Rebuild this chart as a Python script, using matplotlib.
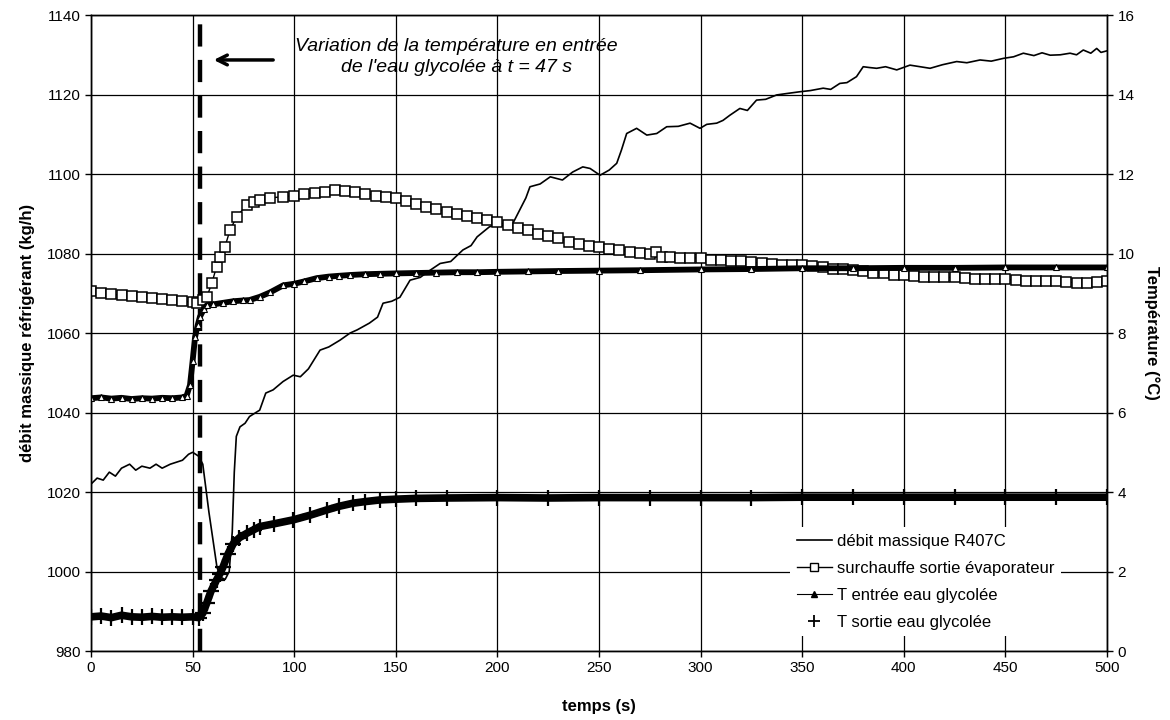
import matplotlib
matplotlib.use('Agg')
import matplotlib.pyplot as plt
from matplotlib.lines import Line2D

plt.rcParams['font.family'] = ['Liberation Sans', 'DejaVu Sans']

# débit massique R407C (kg/h), left axis
t_debit = [0, 3, 6, 9, 12, 15, 19, 22, 25, 29, 32, 35, 39, 42, 45, 48, 50, 53, 55,
           58, 60, 62, 64, 66, 68, 69.5, 70.5, 71.5, 73.3, 75.8, 78, 83, 86, 89.6,
           94.5, 99.5, 103, 107, 112.7, 117, 122.5, 127.5, 131, 137, 141, 143.7, 148,
           152, 157, 162, 166, 171.8, 177, 183, 187, 190, 196, 200, 204.7, 208, 211,
           214, 216, 221, 226, 232, 237, 242, 245.6, 250.5, 255, 258.7, 261, 263.6,
           268.5, 273.5, 278.4, 283.3, 289, 294.8, 299.7, 303, 307.9, 311, 314.4,
           319.3, 323, 327.5, 332, 337.4, 343, 348.8, 354, 360.3, 364, 368.5, 372,
           376.7, 380, 383, 386.6, 391, 396.5, 403, 408, 412.9, 419, 426, 431, 437.5,
           443, 449, 454, 458.8, 464, 468, 472, 477, 481.8, 485, 488.3, 492, 494.9,
           497, 500]
debit = [1022, 1023.5, 1023, 1025, 1024, 1026, 1027, 1025.5, 1026.5, 1026, 1027, 1026,
         1027, 1027.5, 1028, 1029.5, 1030, 1029, 1027, 1015, 1008, 1001, 998.5, 998,
         1000, 1010, 1025, 1034, 1036.4, 1037.3, 1039, 1040.6, 1044.9, 1045.7, 1047.8,
         1049.4, 1049, 1051, 1055.7, 1056.5, 1058.2, 1060, 1060.8, 1062.5, 1064,
         1067.5, 1068, 1069, 1073.3, 1074, 1075.5, 1077.5, 1078, 1080.9, 1082, 1084.2,
         1086.7, 1087.5, 1086.7, 1088, 1091, 1094, 1096.8, 1097.5, 1099.3, 1098.5,
         1100.5, 1101.8, 1101.4, 1099.7, 1101, 1102.7, 1106, 1110.2, 1111.5, 1109.8,
         1110.2, 1111.9, 1112, 1112.8, 1111.5, 1112.5, 1112.8, 1113.5, 1114.8, 1116.5,
         1116, 1118.6, 1118.8, 1119.9, 1120.3, 1120.7, 1121, 1121.6, 1121.3, 1122.8,
         1123, 1124.5, 1127, 1126.8, 1126.6, 1127, 1126.2, 1127.4, 1127, 1126.6,
         1127.5, 1128.3, 1128, 1128.7, 1128.4, 1129.1, 1129.5, 1130.4, 1129.8, 1130.5,
         1129.9, 1130, 1130.4, 1130, 1131.2, 1130.4, 1131.6, 1130.6, 1131]

# surchauffe sortie évaporateur (°C), right axis
t_surch = [0, 5, 10, 15, 20, 25, 30, 35, 40, 45, 50, 52, 55, 57, 59.4, 61.8, 63.5,
           65.9, 68.4, 71.7, 76.6, 80, 83, 88, 94.6, 100, 105, 110, 115, 120, 125,
           130, 135, 140, 145, 150, 155, 160, 165, 170, 175, 180, 185, 190, 195, 200,
           205, 210, 215, 220, 225, 230, 235, 240, 245, 250, 255, 260, 265, 270, 275,
           278, 281, 285, 290, 295, 300, 305, 310, 315, 320, 325, 330, 335, 340, 345,
           350, 355, 360, 365, 370, 375, 380, 385, 390, 395, 400, 405, 410, 415, 420,
           425, 430, 435, 440, 445, 450, 455, 460, 465, 470, 475, 480, 485, 490, 495,
           500]
surch = [9.05, 9.0, 8.98, 8.95, 8.92, 8.9, 8.88, 8.86, 8.84, 8.8, 8.77, 8.75, 8.82,
         8.91, 9.25, 9.67, 9.92, 10.17, 10.59, 10.93, 11.22, 11.3, 11.35, 11.4, 11.43,
         11.46, 11.5, 11.52, 11.56, 11.6, 11.58, 11.55, 11.51, 11.46, 11.42, 11.39,
         11.33, 11.25, 11.18, 11.12, 11.05, 11.0, 10.95, 10.9, 10.85, 10.8, 10.72,
         10.65, 10.58, 10.5, 10.44, 10.38, 10.3, 10.25, 10.2, 10.17, 10.12, 10.08,
         10.05, 10.02, 10.0, 10.05, 9.92, 9.92, 9.9, 9.9, 9.88, 9.85, 9.83, 9.8, 9.8,
         9.78, 9.76, 9.74, 9.72, 9.72, 9.71, 9.68, 9.65, 9.62, 9.6, 9.58, 9.55, 9.52,
         9.5, 9.47, 9.45, 9.43, 9.42, 9.4, 9.4, 9.4, 9.38, 9.36, 9.35, 9.35, 9.35,
         9.33, 9.32, 9.3, 9.3, 9.3, 9.28, 9.27, 9.27, 9.28, 9.3]

# T entrée eau glycolée (°C), right axis
t_entree = [0, 5, 10, 15, 20, 25, 30, 35, 40, 45, 47, 48.7, 50, 51.2, 52.5, 53.6,
            55.5, 57, 60, 65, 70, 75, 78, 83, 88, 94.6, 100, 105, 111, 117, 122,
            127.5, 135, 142, 150, 160, 170, 180, 190, 200, 215, 230, 250, 270, 300,
            325, 350, 375, 400, 425, 450, 475, 500]
T_entree = [6.36, 6.38, 6.35, 6.37, 6.34, 6.36, 6.35, 6.37, 6.36, 6.38, 6.42, 6.69,
            7.3, 7.9, 8.2, 8.41, 8.6, 8.7, 8.72, 8.76, 8.8, 8.82, 8.83, 8.91, 9.02,
            9.2, 9.24, 9.3, 9.38, 9.42, 9.44, 9.46, 9.48, 9.49, 9.5, 9.51, 9.52, 9.53,
            9.53, 9.54, 9.55, 9.56, 9.57, 9.58, 9.6, 9.61, 9.63, 9.63, 9.64, 9.64,
            9.65, 9.65, 9.65]

# T sortie eau glycolée (°C), right axis
t_sortie = [0, 5, 10, 15, 20, 25, 30, 35, 40, 45, 50, 53, 55, 56.9, 59, 61.8, 63.5,
            65, 67.5, 70, 73, 76.6, 80, 83, 90, 99.5, 108, 116, 122, 129, 135, 142,
            150, 160, 175, 200, 225, 250, 275, 300, 325, 350, 375, 400, 425, 450,
            475, 500]
T_sortie = [0.86, 0.88, 0.84, 0.9, 0.86, 0.85, 0.87, 0.85, 0.86, 0.85, 0.86, 0.84,
            0.95, 1.2, 1.5, 1.79, 1.95, 2.12, 2.45, 2.7, 2.85, 2.96, 3.05, 3.13, 3.2,
            3.3, 3.42, 3.55, 3.64, 3.72, 3.76, 3.8, 3.82, 3.84, 3.85, 3.86, 3.85,
            3.86, 3.86, 3.86, 3.86, 3.87, 3.87, 3.87, 3.87, 3.87, 3.87, 3.87]

t_event = 53.6  # where the dashed marker is drawn

fig = plt.figure(figsize=(11.7, 7.2), dpi=100)
ax = fig.add_axes([0.0778, 0.0958, 0.8684, 0.8833])
ax2 = ax.twinx()

ax.plot(t_debit, debit, color='black', lw=1.2)
ax.axvline(t_event, color='black', lw=3.2, linestyle=(0, (5, 3)))

ax2.plot(t_surch, surch, color='black', lw=1, marker='s', ms=7,
         mfc='white', mec='black', mew=1.1)
ax2.plot(t_entree, T_entree, color='black', lw=4.2, marker='^', ms=4,
         mfc='white', mec='black', mew=0.8)
ax2.plot(t_sortie, T_sortie, color='black', lw=5.5, marker='+', ms=11, mew=1.6,
         linestyle='-')

ax.set_xlim(0, 500)
ax.set_ylim(980, 1140)
ax2.set_ylim(0, 16)
ax.set_xticks(range(0, 501, 50))
ax.set_yticks(range(980, 1141, 20))
ax2.set_yticks(range(0, 17, 2))
ax.grid(True, color='black', lw=0.9)
for a in (ax, ax2):
    a.tick_params(labelsize=11, direction='out', length=4, width=1)
    for s in a.spines.values():
        s.set_linewidth(1)

ax.set_xlabel('temps (s)', fontsize=12, fontweight='bold', labelpad=17)
ax.set_ylabel('débit massique réfrigérant (kg/h)', fontsize=12, fontweight='bold',
              labelpad=8)
ax2.set_ylabel('Température (°C)', fontsize=12, fontweight='bold', rotation=270,
               labelpad=18)

ax.annotate('', xy=(59, 1128.7), xytext=(91, 1128.7),
            arrowprops=dict(arrowstyle='->,head_length=0.7,head_width=0.35',
                            lw=2.5, color='black'))
ax.text(180, 1129.4, "Variation de la température en entrée\nde l'eau glycolée à t = 47 s",
        ha='center', va='center', fontsize=14, style='italic', linespacing=1.3)

handles = [
    Line2D([], [], color='black', lw=1.2),
    Line2D([], [], color='black', lw=1, marker='s', ms=6, mfc='white', mec='black'),
    Line2D([], [], color='black', lw=0.8, marker='^', ms=4, mfc='black'),
    Line2D([], [], color='black', lw=0, marker='+', ms=9, mew=1.3),
]
labels = ['débit massique R407C', 'surchauffe sortie évaporateur',
          'T entrée eau glycolée', 'T sortie eau glycolée']
leg = ax2.legend(handles, labels, loc='lower right', bbox_to_anchor=(0.963, 0.01),
                 fontsize=12, frameon=True, framealpha=1, edgecolor='none',
                 facecolor='white', fancybox=False, handlelength=2.1,
                 handletextpad=0.3, labelspacing=0.72, borderpad=0.4)

fig.savefig('out.png', dpi=100)
